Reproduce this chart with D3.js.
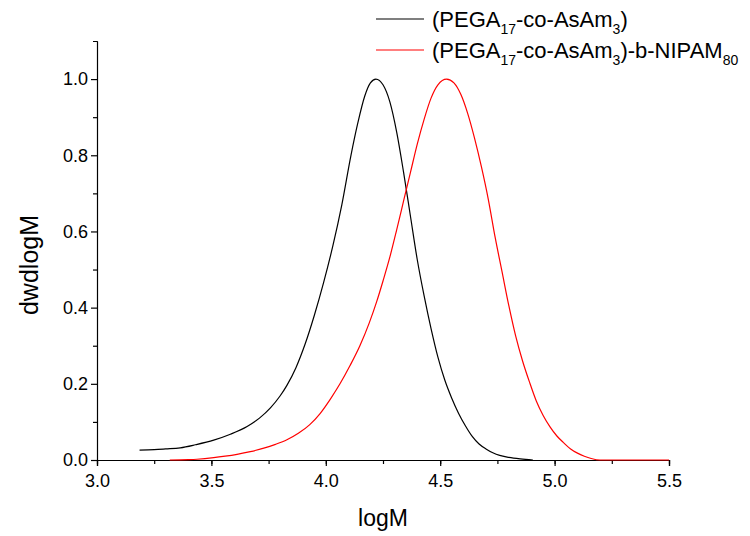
<!DOCTYPE html>
<html>
<head>
<meta charset="utf-8">
<script src="https://cdn.jsdelivr.net/npm/d3@7"></script>
<style>
  body { margin: 0; background: #fff; }
  svg { font-family: Arial, "Liberation Sans", sans-serif; }
</style>
</head>
<body>
<div id="chart"></div>
<script>
// logM values
const blackLogM = [3.186, 3.25, 3.30, 3.364, 3.43, 3.51, 3.58, 3.656, 3.71, 3.758, 3.80, 3.83, 3.87, 3.91, 3.95, 3.99, 4.03, 4.07, 4.11, 4.14, 4.17, 4.195, 4.219, 4.25, 4.28, 4.31, 4.34, 4.37, 4.40, 4.43, 4.46, 4.49, 4.52, 4.55, 4.58, 4.61, 4.64, 4.67, 4.70, 4.73, 4.76, 4.80, 4.85, 4.905];
const blackW = [0.026, 0.027, 0.029, 0.032, 0.040, 0.052, 0.067, 0.088, 0.110, 0.137, 0.168, 0.196, 0.243, 0.305, 0.380, 0.465, 0.560, 0.670, 0.800, 0.885, 0.955, 0.990, 1.0, 0.985, 0.940, 0.860, 0.755, 0.640, 0.525, 0.430, 0.345, 0.270, 0.210, 0.163, 0.123, 0.090, 0.062, 0.042, 0.029, 0.019, 0.012, 0.007, 0.003, 0.0];
const redLogM = [3.318, 3.40, 3.437, 3.51, 3.56, 3.612, 3.67, 3.729, 3.78, 3.83, 3.88, 3.93, 3.975, 4.02, 4.062, 4.106, 4.149, 4.19, 4.222, 4.25, 4.281, 4.31, 4.34, 4.37, 4.40, 4.43, 4.46, 4.49, 4.528, 4.56, 4.59, 4.62, 4.65, 4.68, 4.71, 4.74, 4.77, 4.80, 4.83, 4.86, 4.89, 4.92, 4.95, 4.98, 5.01, 5.04, 5.07, 5.10, 5.13, 5.16, 5.198, 5.3, 5.4, 5.5];
const redW = [0.0, 0.001, 0.002, 0.006, 0.010, 0.015, 0.022, 0.031, 0.041, 0.053, 0.070, 0.093, 0.122, 0.160, 0.200, 0.248, 0.300, 0.360, 0.415, 0.470, 0.535, 0.605, 0.680, 0.755, 0.830, 0.895, 0.950, 0.985, 1.0, 0.990, 0.960, 0.910, 0.845, 0.770, 0.685, 0.585, 0.495, 0.405, 0.325, 0.260, 0.205, 0.155, 0.117, 0.087, 0.063, 0.045, 0.029, 0.018, 0.010, 0.004, 0.0, 0.0, 0.0, 0.0];
const xTicks = [3.0, 3.5, 4.0, 4.5, 5.0, 5.5];
const yTicks = [0.0, 0.2, 0.4, 0.6, 0.8, 1.0];

const width = 750, height = 536;
const svg = d3.select('#chart').append('svg')
  .attr('width', width)
  .attr('height', height);

const x = d3.scaleLinear().domain([3, 5.5]).range([97, 669]);
const y = d3.scaleLinear().domain([0, 1.1]).range([460, 41]);

// minor ticks first, then the major ones with labels
svg.append('g').attr('transform', 'translate(0,460)')
  .call(d3.axisBottom(x).tickValues(d3.range(3, 5.51, 0.25)).tickSize(4).tickFormat(''))
  .call(g => g.selectAll('.tick line').attr('stroke-width', 1.2));
svg.append('g').attr('transform', 'translate(0,460)')
  .call(d3.axisBottom(x).tickValues(xTicks).tickSize(6).tickFormat(d3.format('.1f')))
  .call(g => g.select('.domain').attr('stroke-width', 1.2))
  .call(g => g.selectAll('.tick line').attr('stroke-width', 1.2))
  .call(g => g.selectAll('text').attr('font-size', 18).attr('font-family', 'Arial, "Liberation Sans"').attr('fill', '#000').attr('dy', '1.0em'));

svg.append('g').attr('transform', 'translate(97,0)')
  .call(d3.axisLeft(y).tickValues(d3.range(0.1, 1.01, 0.2)).tickSize(4).tickFormat(''))
  .call(g => g.selectAll('.tick line').attr('stroke-width', 1.2));
svg.append('g').attr('transform', 'translate(97,0)')
  .call(d3.axisLeft(y).tickValues(yTicks).tickSize(6).tickSizeOuter(0).tickFormat(d3.format('.1f')))
  .call(g => g.select('.domain').attr('stroke-width', 1.2))
  .call(g => g.selectAll('.tick line').attr('stroke-width', 1.2))
  .call(g => g.selectAll('text').attr('font-size', 18).attr('font-family', 'Arial, "Liberation Sans"').attr('fill', '#000').attr('x', -9));

// axis titles
svg.append('text')
  .attr('x', 383).attr('y', 526)
  .attr('text-anchor', 'middle')
  .attr('font-size', 23)
  .text('logM');
svg.append('text')
  .attr('transform', 'translate(38,265) rotate(-90)')
  .attr('text-anchor', 'middle')
  .attr('font-size', 25)
  .text('dwdlogM');

// curves
const line = d3.line()
  .x(d => x(d[0]))
  .y(d => y(d[1]))
  .curve(d3.curveMonotoneX);

svg.append('path')
  .datum(d3.zip(blackLogM, blackW))
  .attr('fill', 'none')
  .attr('stroke', '#000')
  .attr('stroke-width', 1.2)
  .attr('d', line);
svg.append('path')
  .datum(d3.zip(redLogM, redW))
  .attr('fill', 'none')
  .attr('stroke', '#ff0000')
  .attr('stroke-width', 1.2)
  .attr('d', line);

// legend, subscripts as smaller lowered tspans
const legend = [
  { color: '#000', parts: [['(PEGA', 0], ['17', 1], ['-co-AsAm', 0], ['3', 1], [')', 0]] },
  { color: '#ff0000', parts: [['(PEGA', 0], ['17', 1], ['-co-AsAm', 0], ['3', 1], [')-b-NIPAM', 0], ['80', 1]] }
];
legend.forEach((item, i) => {
  const ly = 19 + i * 31;
  svg.append('line')
    .attr('x1', 376).attr('x2', 424)
    .attr('y1', ly).attr('y2', ly)
    .attr('stroke', item.color)
    .attr('stroke-width', 1.2);
  const t = svg.append('text')
    .attr('x', 432).attr('y', ly + 8);
  let down = false;
  item.parts.forEach(p => {
    const sub = p[1] === 1;
    t.append('tspan')
      .attr('font-size', sub ? 14 : 22)
      .attr('dy', sub ? 7 : (down ? -7 : 0))
      .text(p[0]);
    down = sub;
  });
});
</script>
</body>
</html>
